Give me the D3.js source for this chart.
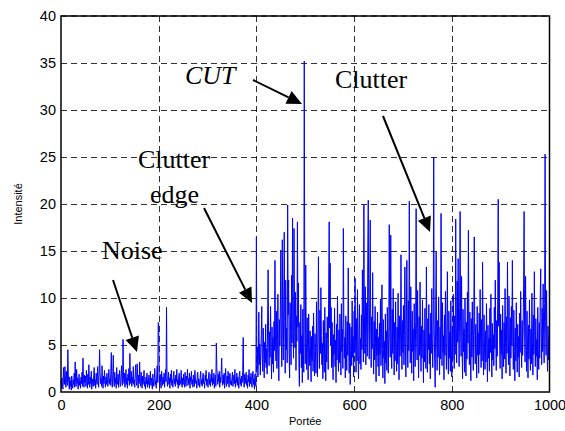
<!DOCTYPE html>
<html><head><meta charset="utf-8">
<script src="https://cdn.jsdelivr.net/npm/d3@7"></script>
<style>body{margin:0;background:#fff}svg{display:block}</style>
</head><body><svg id="c" width="565" height="431"></svg>
<script>
const xTicks=[0,200,400,600,800,1000];
const yTicks=[0,5,10,15,20,25,30,35,40];
const noise0=[1.2,0.4,1.5,0.6,0.3,2.6,1.1,0.8,2.7,1.4,0.5,2.2,1.0,0.7,4.5,1.8,0.9,0.3,1.6,0.6,1.2,0.2,1.7,0.9,0.4,1.3,0.8,2.0,0.5,3.2,1.1,0.6,2.4,0.9,1.5,0.3,1.0,1.9,0.7,1.2,0.4,1.6,0.9,2.1,0.6,3.6,1.3,0.5,1.8,1.0,
1.7,0.6,2.3,1.1,0.4,1.9,0.8,2.9,1.2,0.5,1.6,0.9,2.2,0.3,1.4,1.0,0.6,1.8,2.6,0.7,1.3,0.4,2.0,1.1,0.8,2.7,1.5,0.5,1.9,4.5,2.1,0.9,1.4,0.6,2.8,1.2,0.4,1.7,0.9,2.3,1.1,0.5,1.6,0.8,2.0,1.3,0.6,1.5,2.4,0.9];
const noise1=[1.4,0.7,2.2,4.2,1.0,0.5,1.8,3.9,1.3,0.6,2.1,0.9,1.5,0.4,2.6,1.2,0.8,1.9,0.5,1.4,2.3,1.0,0.6,1.7,2.8,1.1,0.7,5.6,1.6,0.9,2.0,0.5,1.3,2.4,0.8,1.5,0.4,1.9,1.2,2.5,0.7,4.1,1.4,0.9,2.2,0.6,1.6,1.0,2.7,0.8,
1.3,0.5,2.0,2.9,1.1,0.7,3.0,1.5,0.4,1.8,0.9,3.2,1.2,0.6,2.1,1.0,0.4,1.7,0.8,1.4,2.3,0.6,1.1,0.3,1.6,0.9,2.0,0.5,1.3,0.8,1.8,0.4,1.2,2.2,0.7,1.5,0.9,0.3,1.9,1.1,0.6,1.4,2.5,0.8,1.2,0.4,1.7,2.8,1.0,7.4];
const noise2=[7.3,1.5,0.6,1.9,1.0,0.4,2.2,1.3,0.7,1.6,0.9,2.0,0.5,1.4,2.4,1.1,9.0,1.8,0.6,1.2,2.1,0.8,1.5,0.4,1.9,1.0,2.3,0.7,1.3,0.5,1.7,2.2,0.9,1.4,0.6,1.8,1.1,2.4,0.8,1.3,0.4,1.6,2.0,0.7,1.2,0.9,2.3,1.0,0.5,1.5,
0.8,1.9,1.2,0.5,2.1,1.0,0.6,1.7,1.3,2.4,0.7,1.4,0.9,2.0,0.4,1.6,1.1,2.2,0.8,1.3,0.5,1.8,1.0,0.6,2.3,1.5,0.9,1.2,0.4,1.9,2.1,0.7,1.4,1.0,0.5,1.7,2.2,0.8,1.3,0.6,1.5,2.0,0.9,1.1,0.4,1.8,1.2,2.3,0.7,1.4];
const noise3=[1.0,0.5,1.7,2.1,0.8,1.3,0.6,1.9,1.1,2.4,0.7,1.5,0.9,2.0,0.4,1.2,1.8,0.6,5.2,2.6,1.4,0.8,1.9,1.1,2.2,0.5,1.6,1.0,2.3,3.6,1.2,0.7,1.8,0.9,2.0,0.4,1.4,2.5,1.1,0.6,1.7,0.9,2.2,1.3,0.5,1.6,2.0,0.8,1.2,0.7,
1.5,2.1,0.6,1.2,1.8,0.9,2.4,0.5,1.3,1.0,2.0,0.7,1.6,1.1,0.4,1.9,2.2,0.8,1.4,0.6,1.7,1.0,2.3,5.8,1.2,0.5,1.9,0.9,1.5,2.1,0.7,1.3,0.4,1.8,1.1,2.4,0.6,1.6,0.9,2.0,1.2,0.5,1.7,2.2,0.8,1.4,0.3,1.9,1.1,0.6];
const clutter0=[16.5,2.4,4.8,1.6,3.2,8.5,2.9,5.1,1.8,4.2,6.0,9.1,3.5,2.2,6.8,4.0,1.5,5.3,3.1,7.2,2.6,4.6,1.9,8.0,13.0,5.5,2.8,6.4,3.7,9.1,4.3,1.4,6.9,3.0,5.8,2.1,7.5,4.4,14.0,6.2,3.3,8.6,2.5,5.0,10.4,3.8,1.2,7.7,4.9,8.5,
15.1,5.6,2.7,16.2,6.1,3.4,9.8,17.0,7.3,2.0,11.9,4.5,6.8,3.1,19.9,8.2,11.9,4.0,1.5,9.5,6.3,2.9,12.4,5.2,18.5,7.8,3.6,17.4,9.0,4.7,10.6,2.3,8.1,5.4,18.1,6.9,11.6,3.2,0.6,7.4,4.1,9.3,2.6,6.0,1.0,8.8,4.6,2.1,35.2,9.1];
const clutter1=[3.0,13.5,5.7,2.4,7.9,4.2,1.3,8.3,5.0,2.8,6.5,3.6,1.1,5.9,3.3,7.0,2.2,8.4,4.8,1.7,6.2,3.9,2.0,9.6,4.4,1.6,7.1,14.4,5.3,2.5,8.7,4.1,11.1,6.0,2.9,5.2,1.4,7.6,3.8,2.1,9.0,4.7,1.2,6.3,3.2,8.0,5.6,2.4,11.5,18.1,
6.8,13.7,4.9,9.0,2.6,7.4,3.5,1.3,6.1,4.0,8.9,2.7,5.5,1.0,7.2,3.4,10.2,4.8,2.2,6.6,3.1,8.3,5.0,1.8,9.4,4.3,6.7,2.5,17.4,7.0,3.6,5.8,1.5,8.1,4.6,2.3,7.5,3.9,13.2,5.1,2.0,7.3,0.8,4.4,6.9,2.8,9.7,3.7,5.9,1.6];
const clutter2=[8.6,4.2,12.1,5.4,2.1,7.8,3.3,10.9,4.7,1.4,6.4,9.3,3.0,5.7,2.4,8.2,4.5,13.0,6.6,3.2,19.9,8.4,4.1,11.2,2.9,6.8,9.5,3.8,14.6,20.4,7.1,3.5,10.3,18.3,6.2,2.6,8.0,4.6,12.7,5.3,1.9,7.5,3.4,9.1,5.0,1.1,6.7,3.9,8.5,2.7,
5.8,1.7,7.3,4.0,9.9,2.8,6.1,11.4,4.5,1.5,7.7,3.6,5.4,0.9,8.3,3.1,6.5,2.3,9.0,4.8,2.0,7.0,17.8,6.3,3.7,16.7,5.2,2.5,8.8,4.1,11.0,5.6,1.8,7.4,3.3,9.6,4.9,2.2,6.9,3.0,10.5,5.5,1.3,8.1,3.8,6.4,14.6,5.0,2.4,7.6];
const clutter3=[4.2,9.2,2.9,6.0,13.3,4.7,1.6,7.9,14.0,5.3,2.6,9.7,4.4,20.3,7.2,3.1,11.2,5.8,2.0,8.6,4.3,6.7,1.2,9.4,4.9,2.7,7.5,19.5,6.1,3.4,10.8,4.6,1.5,8.0,3.9,11.7,5.1,2.2,7.0,3.6,9.8,4.8,1.0,6.6,3.2,8.9,4.0,2.5,13.3,5.7,
2.1,7.8,4.5,9.3,3.0,6.2,1.4,8.4,4.1,11.0,5.6,2.6,7.1,25.0,6.8,3.3,0.5,8.7,14.9,5.4,2.3,7.6,3.7,10.1,4.6,1.8,6.9,3.5,19.0,7.3,2.8,9.5,4.2,6.0,1.3,8.2,3.9,10.7,5.0,2.4,7.4,12.8,4.4,1.9,8.6,3.6,6.4,2.2,9.7,4.7];
const clutter4=[1.6,7.0,3.4,10.4,5.5,2.5,8.1,4.0,18.4,7.2,3.1,11.8,5.3,14.2,6.6,2.7,9.0,19.2,7.5,3.8,12.3,5.0,1.4,8.8,4.3,6.7,2.1,9.9,4.6,1.7,7.4,3.5,10.6,5.2,17.2,6.3,2.9,8.5,4.1,1.2,7.8,3.7,9.6,5.1,2.3,8.0,16.5,6.0,3.0,7.2,
4.5,1.5,9.1,3.9,6.3,2.0,8.4,4.0,10.9,5.4,2.6,7.7,3.3,13.8,5.9,1.8,8.2,4.7,2.4,6.5,3.2,9.4,4.4,1.1,7.1,3.6,5.7,2.2,8.9,4.2,10.4,5.0,1.6,7.3,3.4,6.1,2.8,9.0,4.6,11.9,5.8,2.3,7.6,3.8,10.1,20.5,7.0,13.8,5.2,2.5];
const clutter5=[8.3,4.0,6.6,1.4,9.2,4.5,2.7,7.4,3.5,11.0,5.3,2.0,8.0,4.1,13.8,6.4,2.9,10.2,4.8,1.7,7.9,3.6,9.1,5.0,14.0,6.2,2.4,8.7,4.3,1.2,6.8,3.3,9.5,4.6,2.1,7.2,3.7,5.9,1.6,8.4,4.2,10.7,5.5,2.6,7.6,3.9,6.1,11.3,19.2,7.0,
3.2,12.3,5.4,2.2,8.6,4.4,1.5,7.1,3.5,9.8,4.9,2.3,6.7,3.0,10.5,5.2,1.8,8.2,4.0,12.8,6.0,2.7,7.8,3.8,5.6,1.3,9.0,4.5,2.4,7.4,3.6,10.0,13.1,5.8,2.9,8.9,4.3,11.5,6.2,3.1,9.4,25.3,7.5,3.9,10.8,5.1,2.2,7.0,3.4,5.9];
const intensity=[].concat(noise0,noise1,noise2,noise3,clutter0,clutter1,clutter2,clutter3,clutter4,clutter5);
const range=intensity.map((d,i)=>i);

const svg=d3.select("#c");
const L=61,R=549.5,T=16,B=392;
const x=d3.scaleLinear().domain([0,1000]).range([L,R]);
const y=d3.scaleLinear().domain([0,40]).range([B,T]);

// grid
const g=svg.append("g");
g.selectAll("line.vx").data(xTicks.slice(1,-1)).enter().append("line")
 .attr("x1",d=>Math.round(x(d))+0.5).attr("x2",d=>Math.round(x(d))+0.5).attr("y1",T).attr("y2",B)
 .attr("stroke","#000").attr("stroke-width",1).attr("stroke-dasharray","6,4").attr("opacity",0.8);
g.selectAll("line.hy").data(yTicks.slice(1,-1)).enter().append("line")
 .attr("y1",d=>Math.round(y(d))+0.5).attr("y2",d=>Math.round(y(d))+0.5).attr("x1",L).attr("x2",R)
 .attr("stroke","#000").attr("stroke-width",1).attr("stroke-dasharray","6,4").attr("opacity",0.8);
g.append("line").attr("x1",L).attr("x2",R).attr("y1",T).attr("y2",T)
 .attr("stroke","#000").attr("stroke-width",1).attr("stroke-dasharray","6,4");

// data
const line=d3.line().x((d,i)=>x(range[i])).y(d=>y(d));
svg.append("path").datum(intensity).attr("d",line).attr("fill","none")
 .attr("stroke","#0000ff").attr("stroke-width",1).attr("stroke-linejoin","round");

// frame
svg.append("rect").attr("x",L).attr("y",T).attr("width",R-L).attr("height",B-T)
 .attr("fill","none").attr("stroke","#000").attr("stroke-width",1.5);

// axes
const xa=svg.append("g").attr("transform",`translate(0,${B})`)
 .call(d3.axisBottom(x).tickValues(xTicks).tickSize(0).tickPadding(8).tickFormat(d3.format("d")));
const ya=svg.append("g").attr("transform",`translate(${L},0)`)
 .call(d3.axisLeft(y).tickValues(yTicks).tickSize(0).tickPadding(5).tickFormat(d3.format("d")));
[xa,ya].forEach(a=>{a.select(".domain").remove();
 a.selectAll("text").attr("font-family","Liberation Sans, Arial, sans-serif").attr("font-size","14.5px").attr("fill","#000");});

svg.append("text").attr("x",(L+R)/2).attr("y",425).attr("text-anchor","middle")
 .attr("font-family","Liberation Sans, Arial, sans-serif").attr("font-size","11px").text("Portée");
svg.append("text").attr("transform",`translate(22,${(T+B)/2}) rotate(-90)`).attr("text-anchor","middle")
 .attr("font-family","Liberation Sans, Arial, sans-serif").attr("font-size","11px").text("Intensité");

// annotations
const ann=[
 {t:"CUT",x:185,y:84,it:true},
 {t:"Clutter",x:335,y:88},
 {t:"Clutter",x:138,y:168},
 {t:"edge",x:150,y:203},
 {t:"Noise",x:102,y:259}];
svg.selectAll("text.ann").data(ann).enter().append("text")
 .attr("x",d=>d.x).attr("y",d=>d.y).attr("font-family","Liberation Serif, Times New Roman, serif")
 .attr("font-size","26px").attr("font-style",d=>d.it?"italic":"normal").attr("fill","#000").text(d=>d.t);

const arrows=[
 {x1:253,y1:80,x2:302,y2:104},
 {x1:383,y1:116,x2:430,y2:232},
 {x1:204,y1:208,x2:252,y2:303},
 {x1:113,y1:280,x2:137,y2:352}];
arrows.forEach(a=>{
 const ang=Math.atan2(a.y2-a.y1,a.x2-a.x1), len=15, w=7;
 const bx=a.x2-len*Math.cos(ang), by=a.y2-len*Math.sin(ang);
 svg.append("line").attr("x1",a.x1).attr("y1",a.y1).attr("x2",bx).attr("y2",by)
  .attr("stroke","#000").attr("stroke-width",2);
 const p1=[bx+w*Math.sin(ang),by-w*Math.cos(ang)], p2=[bx-w*Math.sin(ang),by+w*Math.cos(ang)];
 svg.append("path").attr("d",`M${a.x2},${a.y2}L${p1}L${p2}Z`).attr("fill","#000");
});
</script></body></html>
